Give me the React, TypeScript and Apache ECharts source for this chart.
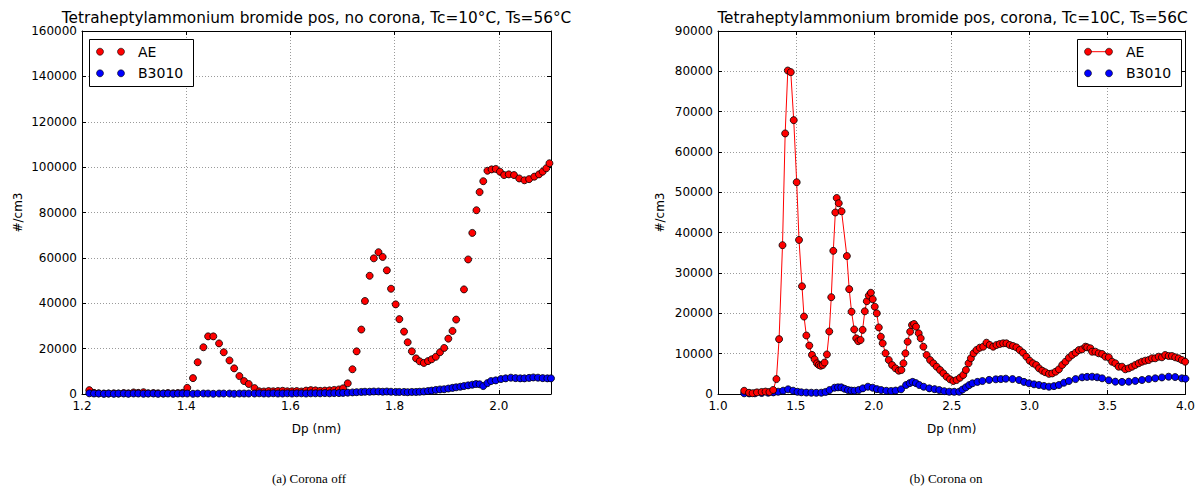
import React, { useEffect, useRef } from "react";
import * as echarts from "echarts";

const leftTitle = "Tetraheptylammonium bromide pos, no corona, Tc=10°C, Ts=56°C";
const rightTitle = "Tetraheptylammonium bromide pos, corona, Tc=10C, Ts=56C";
const captionLeft = "(a) Corona off";
const captionRight = "(b) Corona on";
const xName = "Dp (nm)";
const yName = "#/cm3";
const seriesNames = ["AE", "B3010"];

const leftAE: number[][] = [
  [1.214, 1700], [1.223, 500], [1.232, 300], [1.242, 200], [1.251, 200], [1.261, 300], [1.27, 200],
  [1.28, 400], [1.289, 300], [1.299, 700], [1.308, 500], [1.318, 800], [1.327, 300], [1.337, 400],
  [1.346, 300], [1.356, 200], [1.365, 400], [1.375, 300], [1.384, 400], [1.393, 500], [1.402, 2700],
  [1.413, 7000], [1.422, 14000], [1.433, 20600], [1.442, 25400], [1.452, 25400], [1.463, 22300],
  [1.472, 18400], [1.483, 14800], [1.492, 11300], [1.502, 7900], [1.511, 5700], [1.52, 4400],
  [1.531, 2600], [1.54, 1200], [1.549, 1100], [1.558, 1300], [1.567, 1200], [1.576, 1300],
  [1.585, 1400], [1.594, 1200], [1.603, 1200], [1.612, 1300], [1.621, 1100], [1.63, 1500],
  [1.639, 1700], [1.648, 1600], [1.657, 1400], [1.666, 1500], [1.675, 1600], [1.684, 1800],
  [1.693, 2000], [1.701, 2500], [1.71, 4700], [1.719, 10900], [1.727, 18800], [1.736, 28400],
  [1.743, 41000], [1.752, 52100], [1.76, 59800], [1.769, 62500], [1.777, 60400], [1.785, 54500],
  [1.793, 46400], [1.802, 39500], [1.809, 33000], [1.818, 27500], [1.825, 22800], [1.833, 18800],
  [1.841, 15700], [1.848, 14400], [1.856, 13700], [1.864, 14500], [1.871, 15300], [1.879, 16400],
  [1.887, 18400], [1.895, 20300], [1.903, 24400], [1.911, 27800], [1.918, 32800], [1.933, 46100],
  [1.941, 59300], [1.949, 71000], [1.957, 81000], [1.963, 89000], [1.97, 93800], [1.978, 98400],
  [1.986, 99000], [1.994, 99200], [2.002, 98000], [2.01, 96500], [2.019, 96800], [2.029, 96500],
  [2.039, 95000], [2.049, 94200], [2.058, 94700], [2.068, 95800], [2.077, 96800], [2.084, 98000],
  [2.091, 99500], [2.097, 101700],
];

const leftB3010: number[][] = [
  [1.214, 300], [1.223, 200], [1.232, 200], [1.242, 100], [1.251, 200], [1.261, 100], [1.27, 200],
  [1.28, 200], [1.289, 100], [1.299, 200], [1.308, 200], [1.318, 100], [1.327, 200], [1.337, 200],
  [1.346, 100], [1.356, 200], [1.365, 200], [1.375, 100], [1.384, 200], [1.393, 200], [1.402, 200],
  [1.413, 100], [1.422, 200], [1.433, 200], [1.442, 200], [1.452, 100], [1.463, 200], [1.472, 200],
  [1.483, 200], [1.492, 100], [1.502, 200], [1.511, 200], [1.52, 200], [1.531, 200], [1.54, 300],
  [1.549, 200], [1.558, 200], [1.567, 300], [1.576, 200], [1.585, 200], [1.594, 300], [1.603, 200],
  [1.612, 300], [1.621, 300], [1.63, 200], [1.639, 300], [1.648, 300], [1.657, 300], [1.666, 400],
  [1.675, 300], [1.684, 400], [1.693, 400], [1.701, 500], [1.71, 600], [1.719, 700], [1.727, 800],
  [1.736, 900], [1.743, 1000], [1.752, 1000], [1.76, 1100], [1.769, 1100], [1.777, 1000],
  [1.785, 1100], [1.793, 1000], [1.802, 900], [1.809, 900], [1.818, 900], [1.825, 800], [1.833, 900],
  [1.841, 900], [1.848, 1000], [1.856, 1100], [1.864, 1300], [1.871, 1500], [1.879, 1800],
  [1.887, 2000], [1.895, 2100], [1.903, 2400], [1.911, 2700], [1.918, 2950], [1.926, 3200],
  [1.933, 3500], [1.941, 3800], [1.949, 4100], [1.956, 4400], [1.963, 4300], [1.97, 3500],
  [1.978, 4800], [1.985, 5700], [1.994, 6000], [2.004, 6600], [2.013, 6900], [2.023, 7200],
  [2.032, 7000], [2.041, 6900], [2.049, 6900], [2.058, 7100], [2.066, 7300], [2.075, 7200],
  [2.084, 7000], [2.093, 6900], [2.1, 6900],
];

const rightAE: number[][] = [
  [1.168, 800], [1.199, 300], [1.222, 200], [1.25, 400], [1.28, 500], [1.305, 600], [1.33, 500],
  [1.354, 1000], [1.375, 3700], [1.392, 13600], [1.414, 36900], [1.431, 64600], [1.448, 80200],
  [1.467, 79800], [1.486, 67900], [1.505, 52500], [1.52, 38200], [1.539, 26700], [1.552, 19200],
  [1.567, 14500], [1.586, 12000], [1.603, 9700], [1.62, 8600], [1.635, 7600], [1.647, 7200],
  [1.659, 7000], [1.672, 7200], [1.684, 7800], [1.699, 9800], [1.714, 15500], [1.727, 24000],
  [1.74, 35500], [1.753, 45000], [1.762, 48600], [1.775, 47300], [1.793, 45300], [1.827, 34200],
  [1.842, 26000], [1.857, 20400], [1.874, 16000], [1.887, 13800], [1.9, 13100], [1.915, 13400],
  [1.928, 15900], [1.942, 20500], [1.955, 23000], [1.968, 24400], [1.981, 25100], [1.993, 23500],
  [2.006, 21650], [2.019, 20000], [2.032, 16500], [2.045, 14200], [2.057, 12570], [2.075, 10100],
  [2.096, 8430], [2.117, 7190], [2.139, 6370], [2.16, 5780], [2.177, 5950], [2.19, 7610],
  [2.203, 10090], [2.217, 12970], [2.233, 15450], [2.245, 17100], [2.258, 17360], [2.271, 16690],
  [2.288, 15050], [2.301, 13810], [2.318, 11730], [2.339, 9670], [2.361, 8430], [2.382, 7610],
  [2.403, 6770], [2.425, 5950], [2.446, 5130], [2.467, 4290], [2.489, 3640], [2.51, 3220],
  [2.531, 3470], [2.553, 4040], [2.574, 4710], [2.591, 5950], [2.608, 7610], [2.623, 8850],
  [2.64, 10090], [2.659, 10910], [2.68, 11480], [2.702, 11730], [2.723, 12720], [2.744, 12150],
  [2.766, 11730], [2.787, 12150], [2.808, 12400], [2.83, 12570], [2.851, 12570], [2.872, 12150],
  [2.893, 11900], [2.915, 11570], [2.936, 10910], [2.957, 10240], [2.979, 9250], [3.0, 8260],
  [3.021, 7610], [3.042, 7190], [3.06, 6370], [3.081, 5780], [3.1, 5400], [3.124, 5000],
  [3.145, 5100], [3.167, 5530], [3.188, 6120], [3.209, 7190], [3.23, 8000], [3.252, 9000],
  [3.273, 9700], [3.295, 10240], [3.316, 10900], [3.337, 11080], [3.358, 11730], [3.369, 11570],
  [3.39, 11330], [3.401, 10490], [3.422, 10490], [3.443, 10090], [3.465, 9920], [3.486, 9250],
  [3.508, 9100], [3.529, 8010], [3.55, 7610], [3.571, 6770], [3.593, 6770], [3.614, 6120],
  [3.636, 6370], [3.657, 6770], [3.678, 7190], [3.7, 7610], [3.721, 8010], [3.742, 8260],
  [3.764, 8430], [3.785, 8850], [3.806, 8850], [3.828, 9250], [3.849, 9100], [3.87, 9670],
  [3.892, 9420], [3.913, 9420], [3.934, 9100], [3.956, 8850], [3.977, 8430], [3.998, 8010],
];

const rightB3010: number[][] = [
  [1.168, 170], [1.2, 150], [1.237, 170], [1.28, 250], [1.322, 320], [1.355, 400], [1.386, 570],
  [1.418, 820], [1.45, 1160], [1.482, 820], [1.51, 550], [1.535, 420], [1.567, 350], [1.599, 320],
  [1.631, 300], [1.663, 320], [1.69, 500], [1.716, 990], [1.748, 1560], [1.77, 1650], [1.791, 1650],
  [1.812, 1300], [1.834, 990], [1.855, 850], [1.876, 820], [1.903, 1000], [1.93, 1400],
  [1.962, 1810], [1.993, 1560], [2.02, 1200], [2.047, 990], [2.08, 800], [2.111, 740], [2.14, 850],
  [2.175, 1160], [2.207, 2230], [2.23, 2700], [2.249, 3000], [2.27, 2700], [2.292, 2230],
  [2.32, 1800], [2.356, 1400], [2.39, 1200], [2.42, 990], [2.452, 700], [2.484, 570], [2.516, 550],
  [2.548, 570], [2.569, 1100], [2.591, 1650], [2.612, 2200], [2.633, 2650], [2.665, 3000],
  [2.697, 3220], [2.74, 3500], [2.783, 3640], [2.815, 3700], [2.847, 3800], [2.89, 3700],
  [2.932, 3470], [2.964, 3000], [2.996, 2650], [3.028, 2400], [3.06, 2230], [3.092, 2000],
  [3.124, 1810], [3.156, 1950], [3.188, 2230], [3.22, 2800], [3.252, 3220], [3.295, 3700],
  [3.337, 4130], [3.369, 4250], [3.401, 4290], [3.433, 4150], [3.465, 3890], [3.508, 3400],
  [3.55, 3060], [3.593, 3000], [3.636, 3060], [3.678, 3250], [3.721, 3470], [3.764, 3700],
  [3.806, 3890], [3.849, 4100], [3.892, 4290], [3.934, 4200], [3.977, 3890], [4.0, 3800],
];

const FONT = '"DejaVu Sans", "Bitstream Vera Sans", sans-serif';
const RED = "#ff0000";
const BLUE = "#0000ff";

function App() {
  const ref = useRef<HTMLDivElement>(null);

  useEffect(() => {
    if (!ref.current) return;
    const chart = echarts.init(ref.current, undefined, { renderer: "svg" });

    const grids = [
      { left: 82, top: 31, width: 469, height: 363 },
      { left: 718, top: 31, width: 469, height: 363 },
    ];
    const xCfg = [
      { min: 1.2, max: 2.1, interval: 0.2 },
      { min: 1.0, max: 4.0, interval: 0.5 },
    ];
    const yCfg = [
      { min: 0, max: 160000, interval: 20000 },
      { min: 0, max: 90000, interval: 10000 },
    ];
    const tick = { show: true, inside: true, length: 4, lineStyle: { color: "#000", width: 1 } };
    const axLine = { show: true, onZero: false, lineStyle: { color: "#000", width: 1 } };
    const split = { show: true, lineStyle: { color: "#9a9a9a", type: [1, 2], width: 1 } };
    const label = { color: "#000", fontFamily: FONT, fontSize: 12 };

    const xAxis: any[] = [];
    const yAxis: any[] = [];
    [0, 1].forEach((g) => {
      xAxis.push({
        type: "value", gridIndex: g, position: "bottom", ...xCfg[g],
        axisLine: axLine, axisTick: tick, splitLine: split,
        axisLabel: { ...label, margin: 6, showMaxLabel: g === 1, formatter: (v: number) => v.toFixed(1) },
        name: xName, nameLocation: "middle", nameGap: 29,
        nameTextStyle: { color: "#000", fontFamily: FONT, fontSize: 12 },
      });
      xAxis.push({
        type: "value", gridIndex: g, position: "top", ...xCfg[g],
        axisLine: axLine, axisTick: tick, splitLine: { show: false }, axisLabel: { show: false },
      });
      yAxis.push({
        type: "value", gridIndex: g, position: "left", ...yCfg[g],
        axisLine: axLine, axisTick: tick, splitLine: split,
        axisLabel: { ...label, margin: 5, formatter: (v: number) => String(v) },
        name: yName, nameLocation: "middle", nameGap: g === 0 ? 58 : 52, nameRotate: 90,
        nameTextStyle: { color: "#000", fontFamily: FONT, fontSize: 12 },
      });
      yAxis.push({
        type: "value", gridIndex: g, position: "right", ...yCfg[g],
        axisLine: axLine, axisTick: tick, splitLine: { show: false }, axisLabel: { show: false },
      });
    });

    const item = (c: string) => ({ color: c, borderColor: "#000", borderWidth: 0.8, opacity: 1 });
    const scatter = (name: string, data: number[][], color: string, xi: number, yi: number) => ({
      type: "scatter", name, data, xAxisIndex: xi, yAxisIndex: yi,
      symbol: "circle", symbolSize: 7, itemStyle: item(color), clip: true,
      emphasis: { disabled: true }, large: false,
    });

    const series: any[] = [
      scatter(seriesNames[0], leftAE, RED, 0, 0),
      scatter(seriesNames[1], leftB3010, BLUE, 0, 0),
      {
        type: "line", name: seriesNames[0], data: rightAE, xAxisIndex: 2, yAxisIndex: 2,
        symbol: "circle", symbolSize: 7, showSymbol: true, showAllSymbol: true,
        itemStyle: item(RED), lineStyle: { color: RED, width: 1 }, clip: true,
        emphasis: { disabled: true },
      },
      scatter(seriesNames[1], rightB3010, BLUE, 2, 2),
    ];

    const legendBox = (x: number, withLine: boolean) => {
      const m1 = x + 11;
      const m2 = x + 32;
      const tx = x + 49;
      const rows = [
        { y: 51.7, c: RED, t: seriesNames[0], line: withLine },
        { y: 73.3, c: BLUE, t: seriesNames[1], line: false },
      ];
      const els: any[] = [
        { type: "rect", shape: { x: x + 0.5, y: 39.5, width: 104, height: 47 },
          style: { fill: "#fff", stroke: "#000", lineWidth: 1 }, z: 100 },
      ];
      rows.forEach((r) => {
        if (r.line) {
          els.push({ type: "line", shape: { x1: m1, y1: r.y, x2: m2, y2: r.y },
            style: { stroke: r.c, lineWidth: 1 }, z: 101 });
        }
        [m1, m2].forEach((cx) =>
          els.push({ type: "circle", shape: { cx, cy: r.y, r: 3.5 },
            style: { fill: r.c, stroke: "#000", lineWidth: 0.6 }, z: 102 })
        );
        els.push({ type: "text", x: tx, y: r.y, z: 103,
          style: { text: r.t, font: `14px ${FONT}`, fill: "#000", align: "left", verticalAlign: "middle" } });
      });
      return els;
    };

    const titleFont = `15.3px ${FONT}`;
    const capFont = `13px "Liberation Serif", "Times New Roman", serif`;
    const graphic: any[] = [
      { type: "text", x: 316.5, y: 17.5, z: 100,
        style: { text: leftTitle, font: titleFont, fill: "#000", align: "center", verticalAlign: "middle" } },
      { type: "text", x: 952.5, y: 17.5, z: 100,
        style: { text: rightTitle, font: titleFont, fill: "#000", align: "center", verticalAlign: "middle" } },
      { type: "text", x: 309, y: 478, z: 100,
        style: { text: captionLeft, font: capFont, fill: "#000", align: "center", verticalAlign: "middle" } },
      { type: "text", x: 946, y: 478, z: 100,
        style: { text: captionRight, font: capFont, fill: "#000", align: "center", verticalAlign: "middle" } },
      ...legendBox(89, false),
      ...legendBox(1077, true),
    ];

    chart.setOption({
      animation: false,
      backgroundColor: "#fff",
      grid: grids,
      xAxis,
      yAxis,
      series,
      graphic,
    });

    return () => chart.dispose();
  }, []);

  return (
    <div
      ref={ref}
      style={{ position: "absolute", left: 0, top: 0, width: 1198, height: 487 }}
    />
  );
}

export default App;
